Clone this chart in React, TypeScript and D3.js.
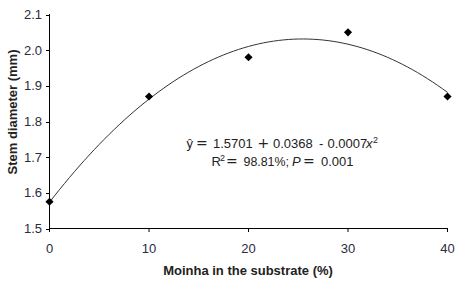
import React from "react";
import * as d3 from "d3";

const xValues = [0, 10, 20, 30, 40];
const yValues = [1.575, 1.87, 1.98, 2.05, 1.87];
const xTicks = [0, 10, 20, 30, 40];
const yTicks = [1.5, 1.6, 1.7, 1.8, 1.9, 2.0, 2.1];

function fitQuadratic(xs: number[], ys: number[]) {
  const n = xs.length;
  let s = [0, 0, 0, 0, 0];
  let t = [0, 0, 0];
  for (let i = 0; i < n; i++) {
    const x = xs[i], y = ys[i];
    for (let k = 0; k < 5; k++) s[k] += Math.pow(x, k);
    for (let k = 0; k < 3; k++) t[k] += y * Math.pow(x, k);
  }
  const M = [
    [s[0], s[1], s[2], t[0]],
    [s[1], s[2], s[3], t[1]],
    [s[2], s[3], s[4], t[2]],
  ];
  for (let i = 0; i < 3; i++) {
    let p = i;
    for (let r = i + 1; r < 3; r++) if (Math.abs(M[r][i]) > Math.abs(M[p][i])) p = r;
    [M[i], M[p]] = [M[p], M[i]];
    for (let r = 0; r < 3; r++) {
      if (r === i) continue;
      const f = M[r][i] / M[i][i];
      for (let c = i; c < 4; c++) M[r][c] -= f * M[i][c];
    }
  }
  return [M[0][3] / M[0][0], M[1][3] / M[1][1], M[2][3] / M[2][2]];
}

export default function App() {
  const W = 460, H = 283;
  const x = d3.scaleLinear().domain([0, 40]).range([49.5, 447.5]);
  const y = d3.scaleLinear().domain([1.5, 2.1]).range([228.5, 14.5]);
  const [a, b, c] = fitQuadratic(xValues, yValues);
  const curvePts = d3.range(0, 40.001, 0.5).map((v) => [v, a + b * v + c * v * v] as [number, number]);
  const line = d3.line<[number, number]>().x((d) => x(d[0])).y((d) => y(d[1]));
  const diamond = d3.symbol().type(d3.symbolDiamond2).size(42)();
  const font = "'Liberation Sans', Arial, sans-serif";
  const sym = "'DejaVu Sans', sans-serif";
  const tickColor = "#2b2b3a";
  return (
    <svg width={W} height={H} style={{ position: "absolute", left: 0, top: 0, background: "#fff" }}>
      <g fontFamily={font}>
        <line x1={49.5} x2={49.5} y1={14} y2={229} stroke="#000" strokeWidth={1} />
        <line x1={49} x2={448} y1={228.5} y2={228.5} stroke="#000" strokeWidth={1} />
        {yTicks.map((t) => (
          <g key={"y" + t}>
            <line x1={46} x2={50} y1={Math.round(y(t)) + 0.5} y2={Math.round(y(t)) + 0.5} stroke="#000" />
            <text x={42} y={y(t) + 4.5} textAnchor="end" fontSize={13} fill={tickColor}>
              {t.toFixed(1)}
            </text>
          </g>
        ))}
        {xTicks.map((t) => (
          <g key={"x" + t}>
            <line x1={x(t)} x2={x(t)} y1={228} y2={232} stroke="#000" />
            <text x={x(t)} y={253} textAnchor="middle" fontSize={13} fill={tickColor}>
              {t}
            </text>
          </g>
        ))}
        <path d={line(curvePts) || ""} fill="none" stroke="#333" strokeWidth={1} />
        {xValues.map((v, i) => (
          <path key={i} d={diamond || ""} transform={`translate(${x(v)},${y(yValues[i])})`} fill="#000" />
        ))}
        <text x={248} y={275} textAnchor="middle" fontSize={13} fontWeight="bold" fill="#222"
          fontFamily="'Liberation Sans Narrow', 'Arial Narrow', sans-serif" >
          Moinha in the substrate (%)
        </text>
        <text transform="translate(17,112) rotate(-90)" textAnchor="middle" fontSize={13} fontWeight="bold" fill="#222"
          fontFamily="'Liberation Sans Narrow', 'Arial Narrow', sans-serif">
          Stem diameter (mm)
        </text>
        <text y={148} fontSize={13} fill="#222">
          <tspan x={186.5}>ŷ</tspan>
          <tspan x={196} fontFamily={sym} fontSize={14}>=</tspan>
          <tspan x={213}>1.5701</tspan>
          <tspan x={257.5} fontFamily={sym} fontSize={14}>+</tspan>
          <tspan x={273}>0.0368</tspan>
          <tspan x={319}>-</tspan>
          <tspan x={327.5}>0.0007</tspan>
          <tspan x={366} fontStyle="italic">x</tspan>
          <tspan x={373} fontSize={9} dy={-5}>2</tspan>
        </text>
        <text y={166} fontSize={13} fill="#222">
          <tspan x={211.5}>R</tspan>
          <tspan x={220} fontSize={9} dy={-5}>2</tspan>
          <tspan x={226} dy={5} fontFamily={sym} fontSize={14}>=</tspan>
          <tspan x={243.5} fontSize={12.4}>98.81%;</tspan>
          <tspan x={292} fontStyle="italic">P</tspan>
          <tspan x={303} fontFamily={sym} fontSize={14}>=</tspan>
          <tspan x={321}>0.001</tspan>
        </text>
      </g>
    </svg>
  );
}
